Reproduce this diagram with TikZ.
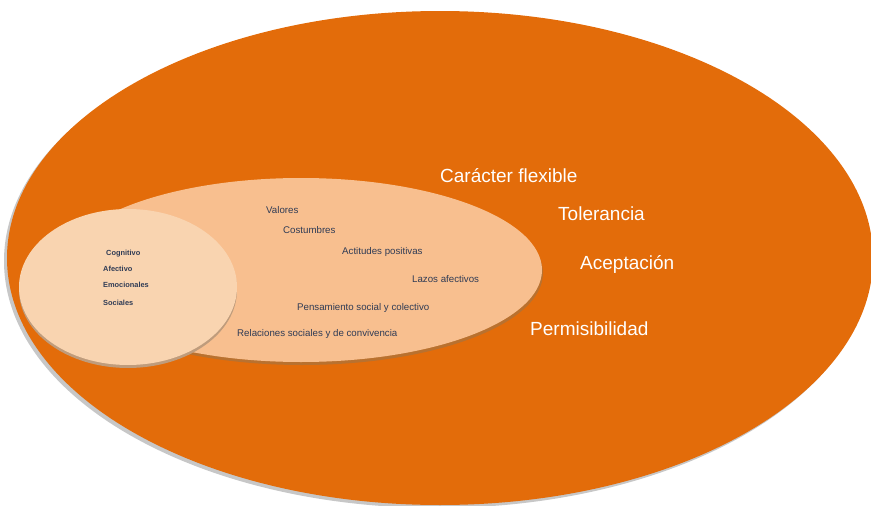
\documentclass[tikz,border=0pt]{standalone}
\usepackage{fontspec}
\setmainfont{Liberation Sans}
\definecolor{outerorange}{HTML}{E36C0A}
\definecolor{midpeach}{HTML}{F8BF8F}
\definecolor{innerpeach}{HTML}{F9D4B0}
\definecolor{textblue}{HTML}{2F3B55}
\definecolor{rimbrown}{HTML}{B9712F}
\tikzset{
	bigtxt/.style={text=white, font=\fontsize{19}{22}\selectfont, anchor=west, inner sep=0pt},
	midtxt/.style={text=textblue, font=\fontsize{9.7}{11}\selectfont, anchor=west, inner sep=0pt},
	smalltxt/.style={text=textblue, font=\bfseries\fontsize{7.4}{9}\selectfont, anchor=west, inner sep=0pt}
}

\begin{document}
\begin{tikzpicture}[x=1pt, y=-1pt]
			%%%%% START %%%%%
			\useasboundingbox (0, 0) rectangle (871, 506);
			
			\fill[black!22] (437, 261) ellipse [x radius=433pt, y radius=247pt];
			\fill[outerorange] (440, 258) ellipse [x radius=433pt, y radius=247pt];
			
			\fill[rimbrown] (302, 273) ellipse [x radius=241pt, y radius=92pt];
			\fill[midpeach] (301, 270) ellipse [x radius=241pt, y radius=92pt];
			
			\fill[rimbrown!80!black!60] (128, 290) ellipse [x radius=109pt, y radius=78pt];
			\fill[innerpeach] (128, 287) ellipse [x radius=109pt, y radius=78pt];
			
			\node[bigtxt] (carFlex) at (440, 176) {Carácter flexible};
			\node[bigtxt] (tol) at (558, 214) {Tolerancia};
			\node[bigtxt] (acep) at (580, 264) {Aceptación};
			\node[bigtxt] (perm) at (530, 329) {Permisibilidad};
			
			\node[midtxt] (val) at (266, 210) {Valores};
			\node[midtxt] (cost) at (283, 230) {Costumbres};
			\node[midtxt] (acti) at (342, 252) {Actitudes positivas};
			\node[midtxt] (lazos) at (412, 279) {Lazos afectivos};
			\node[midtxt] (pens) at (297, 308) {Pensamiento social y colectivo};
			\node[midtxt] (rela) at (237, 334) {Relaciones sociales y de convivencia};
			
			\node[smalltxt] (cogn) at (106, 254) {Cognitivo};
			\node[smalltxt] (afec) at (103, 269) {Afectivo};
			\node[smalltxt] (emoc) at (103, 285) {Emocionales};
			\node[smalltxt] (soci) at (103, 303) {Sociales};
			
			%%%%% END %%%%%
\end{tikzpicture}
\end{document}
